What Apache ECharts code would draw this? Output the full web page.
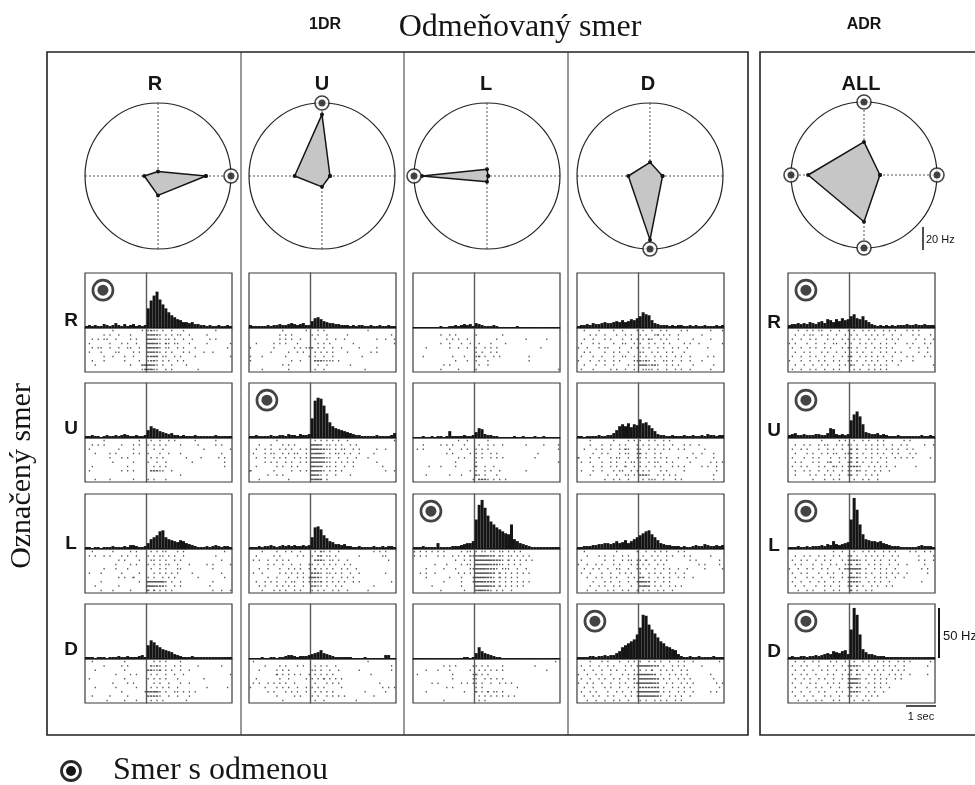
<!DOCTYPE html>
<html>
<head>
<meta charset="utf-8">
<script src="https://cdn.jsdelivr.net/npm/echarts@6/dist/echarts.min.js"></script>
<style>
  html, body { margin: 0; padding: 0; background: #fff; }
  #chart { width: 975px; height: 785px; }
</style>
</head>
<body>
<div id="chart"></div>
<script>
// Movement directions, in the order used by every tuning array: R, U, L, D
const directions = ['R', 'U', 'L', 'D'];
const directionAngles = [0, 90, 180, 270];
const columnTitles = ['R', 'U', 'L', 'D', 'ALL'];

// Mean discharge per target direction (Hz), order R, U, L, D
const tuningR = [42, 4, 12, 17];
const tuningU = [7, 54, 24, 9.5];
const tuningL = [1, 6, 57, 5];
const tuningD = [11, 12, 19, 56];
const tuningALL = [14, 29, 49, 41];

// Rewarded directions for each block (degrees)
const rewardR = [0];
const rewardU = [90];
const rewardL = [180];
const rewardD = [270];
const rewardALL = [0, 90, 180, 270];

// Time axis of the peri-event plots (s); 0 = cue onset
const timeMin = -2.1;
const timeMax = 2.9;
const binWidth = 0.1;

// Peri-event histograms (Hz), per block column; rows R, U, L, D.
// Each entry: [bins before the event, bins after the event]
const psthColR = [
  [[2,3,2,3,2,2,4,3,2,3,5,3,2,4,2,3,4,2,3,2,3],[20,28,33,37,29,24,20,16,13,11,9,8,6,6,5,6,4,4,3,3,2,3,2,2,3,2,2,3,2]],
  [[2,2,3,2,2,1,2,3,2,2,3,2,3,4,3,2,2,3,2,2,3],[8,12,10,9,7,6,5,4,5,3,3,2,3,2,2,2,3,2,2,2,2,2,2,3,2,2,2,2,2]],
  [[2,2,1,2,2,1,2,2,2,3,2,2,2,3,2,4,4,3,2,2,3],[6,10,12,14,18,19,12,10,9,8,7,9,8,6,5,4,3,2,2,2,3,2,3,4,3,2,3,3,2]],
  [[2,2,2,1,2,2,2,1,2,2,2,3,2,2,3,2,2,2,3,4,2],[14,19,17,14,12,10,9,8,7,5,4,3,2,2,2,3,2,2,2,2,2,2,2,2,2,2,2,2,2]]
];
const psthColU = [
  [[3,2,2,2,2,2,3,2,3,3,4,3,3,4,5,4,3,4,5,3,3],[7,10,11,9,7,6,5,5,4,4,3,3,3,2,3,2,3,3,2,2,3,2,2,3,2,2,3,2,2]],
  [[2,2,3,2,2,2,2,3,2,2,3,3,2,4,3,3,2,4,3,3,4],[20,38,41,40,33,25,16,12,10,9,8,7,6,5,4,3,3,2,2,2,2,2,3,2,2,2,2,3,5]],
  [[2,2,2,3,2,3,3,4,3,2,3,4,3,4,3,4,3,3,4,3,4],[12,22,23,20,14,11,8,7,5,5,4,5,3,3,2,2,3,2,2,2,2,3,2,2,3,2,3,3,2]],
  [[1,1,1,1,2,1,1,2,2,1,2,2,3,4,4,3,2,3,3,3,4],[5,6,7,9,6,5,4,3,2,2,2,2,2,2,1,1,1,1,2,1,1,1,1,1,1,4,4,1,1]]
];
const psthColL = [
  [[1,1,1,1,1,1,1,1,1,2,1,1,2,2,3,2,3,4,3,4,2],[5,4,3,2,2,2,3,2,1,1,1,1,1,1,2,1,1,1,1,1,1,1,1,1,1,1,1,1,1]],
  [[1,1,1,2,1,1,2,1,2,2,1,2,7,2,2,2,2,3,2,2,3],[6,10,9,4,3,3,2,2,1,1,1,1,1,2,1,1,2,1,1,1,2,1,1,2,1,1,1,1,1]],
  [[2,2,2,3,2,2,2,2,6,2,2,2,2,3,3,3,4,5,6,6,8],[30,45,50,42,34,28,25,22,20,18,16,15,25,10,8,6,5,4,3,2,2,2,2,2,2,2,2,2,2]],
  [[1,1,1,1,1,1,1,1,1,1,1,1,1,1,1,1,1,2,2,1,2],[6,12,8,6,5,4,3,2,2,1,1,1,1,1,1,1,1,1,1,1,1,1,1,1,1,1,1,1,1]]
];
const psthColD = [
  [[2,3,3,4,3,5,4,4,5,6,5,5,6,7,6,8,6,7,9,8,10],[12,16,14,13,8,5,4,3,3,3,2,3,2,3,3,2,2,3,2,3,2,2,3,2,2,2,3,2,3]],
  [[2,2,1,2,2,2,2,3,2,2,3,3,5,8,12,14,12,15,11,14,13],[19,15,16,13,10,7,4,3,3,2,2,3,2,2,2,3,2,2,3,2,2,3,2,4,3,3,2,3,3]],
  [[2,2,3,3,3,4,4,5,5,6,6,5,6,8,6,7,9,6,8,10,12],[14,16,18,19,15,12,9,6,5,4,4,3,3,3,2,3,2,2,3,4,3,3,5,4,3,3,4,3,4]],
  [[2,2,2,2,3,3,2,3,3,4,3,4,4,6,8,12,14,16,18,20,25],[32,45,44,35,30,26,22,18,16,13,12,10,9,5,3,2,2,3,2,2,3,2,2,2,2,3,2,2,2]]
];
const psthColAll = [
  [[3,4,4,5,4,5,4,6,5,4,6,7,5,9,8,6,9,7,10,8,9],[12,14,10,9,12,8,6,4,3,2,3,2,3,2,3,2,3,3,3,4,3,3,4,3,3,4,3,3,3]],
  [[3,4,5,3,3,4,3,3,3,4,4,3,3,5,10,9,4,3,4,3,4],[18,24,27,22,14,6,5,4,4,5,3,4,3,2,2,2,3,2,2,2,2,2,2,2,3,2,2,3,2]],
  [[2,2,2,3,2,2,3,2,3,3,3,4,3,5,4,8,5,4,5,6,7],[30,52,40,25,15,10,9,8,8,7,8,6,5,4,3,3,3,2,2,2,2,2,2,3,4,3,3,3,2]],
  [[2,3,2,2,3,3,2,3,3,4,3,4,5,6,5,8,7,6,8,9,5],[30,52,45,25,10,7,5,5,4,3,3,3,2,2,2,2,2,2,2,2,2,2,2,2,2,2,2,2,2]]
];

// Spike rasters: one string per trial, one character per 0.1 s bin
// ('.' = no spike, digit = spike count); '|' marks the event.
const rasterColR = [
  [
    ".........1.........1.|1211.1..1...1..........1.....",
    "......1.1..1...1.....|23221.1.1.11..1.....1........",
    "..1.1.11..1....1.1...|32311.11.1..1..1.....1.1.....",
    ".1......1...1.1..1...|33321.21.11...1.....1.......1",
    "..1.11..1..1..11..1..|33231.11..1.1...1..........1.",
    ".1...1....11....1.1..|23221.1.1...1.1....1..1......",
    "......1..1...1..1....|2232.11..1.1....1...........1",
    "..1...1......1....1..|1221.1.1..1.1................",
    "...1...........1...23|3321.1..1....1...............",
    "...................12|2311..1.1........1..........."
  ],
  [
    "......1...........1..|.1..1..1.1......1......1.....",
    "..1.1.1.....1...1.1..|1.1.1.1....1.....1.....1.1...",
    ".1.........1....1....|..1..1.............1........1",
    "...1....1.1.....1.1..|1...1..1...1.............1...",
    "........1...1.1......|.1.1.1.......1....1.....1.1..",
    ".........1......1....|1..1..1........1..........1..",
    "..1...........1......|..1.1.1...................1..",
    ".1..........1.1.1....|.22211..1....................",
    ".....................|...........1.................",
    "...1....1.......1....|1.1...1......................"
  ],
  [
    "..1......1.....1.1...|.1.1.11...1.1.............1..",
    ".1.1..1.1...1.1..1...|1.1.11.1.1..1..........1.....",
    "...........1.1....1..|.11.1.1..1.1.............1...",
    "..........1....1.1...|1.1.1.11..1...1.....1.1.....1",
    "......1...1...1......|.1..1.1...11..........1......",
    ".1...1......1.....1..|..1.1.1.1.1....1.........1...",
    "...........1.1..2....|1.1..1.1.1.......1........1..",
    ".....1............1..|3333331.1..1..........1......",
    "...1.......1.........|3332221..1.1.........1.......",
    ".....1...1.....1.....|2.2.1.1.1.............1..1..1"
  ],
  [
    "..1..........1.......|..1.1.1....1.................",
    "......1.....1.1......|.2121.1..1.1.....1.......1...",
    "...1.........1.......|22112.1.1..1..1..............",
    "..........1....1.1...|.1.1..1..1..1...............1",
    ".1...........1.......|1.1.1.1...1........1.........",
    ".........1....1.1....|..1.1..1...1..1..............",
    "...1......1......1...|.1.1.1.1..1.........1......1.",
    "............1.......1|32331.1..11.1.1.1............",
    "..1.....1.....1......|22221..1..1...1..............",
    ".......1.....1...1...|.1.1.1.......1..............."
  ]
];
const rasterColU = [
  [
    "...........1.......1.|..1.1..............1.........",
    "..........1.1.1......|1.1..1......1..............1.",
    "..........1.1.1..1...|.1...1..1..1..........1..1..1",
    "..1.....1.1.1...1....|..1.1.1.......1.............1",
    "1.......1......1.1.11|2.1.1..1..1.....1.....1......",
    ".......1.....1..1.1..|.1.1.1.1....1.......1.1......",
    "1...1.......1.......1|.1..1..1.........1...........",
    "1.............1..1...|.2221111.1...................",
    "...........1.1.......|..1..1.......1...............",
    "....1........1.......|.1..1.............1.........."
  ],
  [
    ".........1...........|.1.1.1.1.1..1...............1",
    "...1...1...1.1.1.....|3332.11.1.1..1.1.............",
    "..1..1.1..1.1.1..1.1.|3332211.1.11..1.1.....1..1...",
    ".1...1.11..1.1.11..1.|23331.1.11.1.1..1....1.......",
    "..1..1..1.1.1..1.1.1.|3333211..1..1..1...1.........",
    ".....1.1.1..1.1..1.1.|3333211.1.1.1.1.......1......",
    "..1......1.1..1.1....|3323.11.1..1..1.........1....",
    "2.......1.....1..1.1.|33321.1.1.1..............1..1",
    "......1..1.1.........|3321.1..1....1...............",
    "...1.........1.......|2332.1......................."
  ],
  [
    "....1....1..1.1..1...|.1.21.1..1...........1.1.1...",
    "..1.....1.1.....1.1..|1.22.11.1.......1.......11...",
    ".1.1..1..1.1.1.......|.2221.11.1..1.............1..",
    "......1.1..1..1..1..1|1.1.1.1.1..1.1...............",
    "...1..1...1..1.1.1..1|.2.1.1.1..1.1..1.............",
    ".1..1.....1.1.1.1.1..|2221.11.1.1..1..1........1...",
    "......1..1...1..1.1.1|3221.1.1..1.1.1..............",
    "..1..1.1.1..1.11..1.1|1212.1.1.1.1..1.1..........1.",
    "...1.1...1.1.1.1..1..|2211.1..1.1..........1.......",
    "....1...1.1.1..1.1...|1.1.1..1.1..1......1........."
  ],
  [
    ".1...................|...................1.........",
    ".....1....1.1...1.1..|.1.1.1..1..................1.",
    "...1.....1.1.1.......|11.1..1..1......1..........1.",
    ".........2.1.1.1.1..1|.1.1.1.1............1........",
    "..1.......1..1.....1.|1.1.2.1.1.1..................",
    ".1.1..1.1.1.1..1.....|.1...1.1.1.............1.....",
    "1....1...1.1.1..1..1.|1.1.1.....1.............1.1.1",
    "......1.1...1.1.1..1.|.1.1.1.1..........1......1...",
    ".........1.....1.1...|1.1..1.1.1.1.........1.......",
    "...........1.........|.1..1..........1............."
  ]
];
const rasterColL = [
  [
    ".....................|.............................",
    ".........1..1.1......|1........1...................",
    "...........1.1.1..1..|.......1.........1......1....",
    ".........1..1...1..1.|.1...1....1..................",
    "....1.......1..1..1..|1..1.1.1..............1......",
    ".....................|1.1..1.1.....................",
    "...1.........1...1...|12.1..1.1.........1..........",
    "..............1...1..|1...1.............1..........",
    "..........1.1........|.1..1........................",
    ".........1.....1.....|1...........................1"
  ],
  [
    "...............1..1..|....1........................",
    "...1.....1.1.1...1...|.1..1.1..1.......1.....1....1",
    ".1.1........1...1.1..|1.1.1.......................1",
    "...........1.1.....1.|1.1..1.1.............1.......",
    "...............1.1...|1.1..1.1.1..........1........",
    "..............1......|1...........................1",
    ".....1...1....1......|2..1..1......................",
    "...................1.|1..1.1..1........1...........",
    "....1.......1...1....|21.1...1.....................",
    "....................1|.2221.1.1.1.................."
  ],
  [
    "1.1.1.1.1.1.....1.11.|1.11.11.11.1.1.1.............",
    "1.1.1...1.1..1.1.1.21|2333222.21.11.1.1.1..........",
    "..............1..1.1.|3333332221.2.1.1.1.1.........",
    ".......1...1....1.11.|3333322211.1.1.1.............",
    "....1.....1...1....11|33332221.111..1..1...........",
    "..1.1..1.......1.1.1.|3333322.2.1.1.1.1.1..........",
    "....1.......1...1...1|3333221.2.1.1.1..............",
    "..........1.....1...1|3332222.1.1.1.1.1.1..........",
    "......1.........1....|3333322.2.1.1.1.1............",
    ".........1.......1...|233221.1.1..1................"
  ],
  [
    ".....................|...........................1.",
    "..........1.1.1.....1|1.1.1....1..........1........",
    "....1...1...1......1.|.1.1.1.1.1..............1....",
    ".1...........1......1|2.1.1........................",
    ".............1......1|1..1.1.1.1...................",
    "......1.1.......1.1.1|1.1..1..1.1.1................",
    "...........1.1.......|1.1...........1..............",
    "....1............1...|2.1.2.11.1...................",
    ".....................|.1.1.1.1.1.1.1...............",
    "..........1..........|.1.1........................."
  ]
];
const rasterColD = [
  [
    "..1....1....1..1....1|.1..1..1.1....1.1.......1...1",
    "....1.1..1...1..1.1..|1.1..12.1.1..1.......1.......",
    "..1..1...1.1...1..1.1|.1.21..1.1...1....1.....1....",
    ".1...1.1....1..11..1.|1..1.1..1.1....1.1..1.......1",
    "1..1...1.11...1...1.1|.1.1..1.1..1.1..1......1.....",
    "..1.1....1..1.1..1...|11..1.1..1.1...1.............1",
    ".1...1..1...1..11..1.|1.1..1.1.1..1.1..1.....1.1...",
    "1...1..1.1..1.1....11|2121.1..11.1..1..1...1.......",
    "..1...1..1..1....1.1.|2321221..1.1.1....1......1...",
    ".1...1.....1.1..1..1.|.1111.1..1..1.1..1......1...."
  ],
  [
    "....1.......1....1.1.|1..1.1..1.1..................",
    "....1...1..1..1.1...1|.1.1..1.1..1...1.1..1........",
    "..1...1.1..1..1.21..1|1..1.1..1.1..1.1......1......1",
    ".....1..1.1...1.11..1|2.1..1.1..........1..1...1...",
    "2...1..1...1.11..1..1|1.1..1.1.1...1..1..1.....1...",
    ".1..1...1..1.1..1.11.|1..1.11..1.1.....1......1.1.1",
    ".....1..1..1.1..2..1.|1.1..1.1...1.1.1.....1.1..1..",
    ".1...1..1...1.11..1.1|.1.1...1.1.....1..........1..",
    "....1.....1..1..11.1.|2221..1.1.1.1............1...",
    ".........1..1.1..1...|.1.111..1...1.1..........1..."
  ],
  [
    "..1..........1......1|..1..1.1.1...1.1.............",
    "...1...1.1..1..1.1...|.1..1.1..1.1...1.1......1....",
    ".1.......1..1..1.11.1|1.2..1.1.1.......1.1.......1.",
    "1..1..1.1...1.1...1.1|.1.1..1.1...........1.1....1.",
    "..1..1.1..1..11..1..1|1.1..1..1.1..1..1.....1.....1",
    ".1..1...1..1..1.1.1..|1..1.1.1..1.1..1.............",
    "...1..1.1..1.1...1.1.|22.1..1.1.1..1.1..1..........",
    ".....1...1.1..1..1..1|3322.1..1.1..................",
    "....1..1.1..1.1...1..|2332.1.1..1.1.1..............",
    "...1..1...1.1..1.1..1|.1.1..1.1..1................."
  ],
  [
    "....1...1.1...1..1.1.|1..1.1.1..1..1.1..1........1.",
    ".1..1..1..1.1...1.1.1|3333222.1..1.1.1.....1.......",
    "..1..1..1..1.1..1..1.|1.1.2..1.1.1..1.1............",
    "1..1..1.1..1...1.1.11|333322.1..1.1.1.1.......1....",
    ".1..1..1.1..1.1..1.2.|3333322.1.1..1.1.1.......1...",
    "1..1.1..1..1..1.1..12|3333322..1.1..1.1.1.......1.1",
    "..1..1...1.1..1..1.1.|2222222.1..1.1.1.1.........1.",
    ".1..1.1...1..1.1..1.1|3333333.1.1..1.1..1.....1.1..",
    "..1..1.1..1.1...1.1.1|33333321..1.1.1..1...........",
    "...1..1..1..1.1..1...|1.1..1.1.1..1.1.............."
  ]
];
const rasterColAll = [
  [
    "...1..1.1.11..1..1..1|.1..1.1.1..1.1.1...1.1.1.....",
    "..1..1.11..1.1..1..1.|1.1..1.1.1.1..1..1...1.1...1.",
    ".1..1..1.1...1.1..1.1|.1.1..1.1...1.1.1.....1..1..1",
    "1.1...1..1..1..11..1.|1..1.1.1..1.1..1...1.1...1.1.",
    ".1..1..1.1..1.1...1.1|1.1..1..1.1.1.1.....1..1..1..",
    "..1..1.1...1.1..1..1.|1.1.1..1..1.1..1.1.....1..1..",
    ".1..1..1.1..1..1..1.1|2..1.1.1.1.1..1....1.1...1.1.",
    "1...1..1..1.1..1.1..1|1.1..1.1.1..1.1..1...1.......",
    "..1..1..1..1.1...1.1.|21..1.1.1.1.1...1...........1",
    ".1..1..1.1..1..1.1...|.1.1..1.1.1.1................"
  ],
  [
    "...........1.....1.1.|.1..1.1..1.1......1.1........",
    "..1..1.1..1.11..1.1.1|1.1..1.1.1.1..1..1.1.....1..1",
    ".1..1.1...1..1.1..1..|2.2..1.1.1..1.1.1..1.1.......",
    "..1...1.1..1.1.11..11|2.1.1..1.1.1..1.1...1.1......",
    ".1...1..1.1...1..1.1.|2.2..1.1..1.1..1.1.1.1.....1.",
    "..1.1...1.1..12..1..1|2.2.1..1.1..1................",
    ".1..1.1...1.1..21.1.1|2221..1.1.1.1..1......1......",
    "..1..1.1..1..1.1..1.1|1.21.1..1.1..1...............",
    "..1....1.1..1.1..1..1|2.1..1.1.1...................",
    "........1...1..1.1...|.1..1.1..1..................."
  ],
  [
    "...............1..1..|.1..1.1.1..1.1.1....1.1..1.1.",
    "..1..1.1..1.1..1.1..1|2.1..1.1.1.1..1.1......1....1",
    ".1..1.1..1..1.1...1.1|2221.1..1.1..1.1.......1.1..1",
    "..1.1...1..1..1.1..11|2.21..1.1.1..1..1..1.....1...",
    "1..1..1.1..1.1...1.22|3332.1..1.1.1..1........1.1..",
    ".1..1.1...1..1.1..1..|2.21.1.1..1.1.1.1..1......1..",
    "..1...1.1..1..11..1.1|3221.1..1.1.1..1..1..........",
    ".1..1..1..1.1..1.1..1|2221..1.1.1..1..........1....",
    "..1..1...1..1.1..1..1|2.2.1..1.1..1.1..............",
    "...1..1.1...1..1.1...|2.1..1.1....................."
  ],
  [
    "..1..1..1.1...1.1..1.|.1..1.1..1.1.1..1.1.1......1.",
    ".1..1.1...1..1.1..1.1|2221..1.1..1.1.1..1.......1..",
    "..1..1..1..1.1..1..1.|2.2.1..1.1.1..1.1.1..........",
    ".1..1.1..1...1.1..1.1|1.21..1.1.1..1.1.1..1.....1..",
    "..1..1.1..1.1..1..1.1|3331.1..1.1.1..1.1...........",
    ".1..1..1.1...1.1.1..1|3321..1.1.1.1................",
    "..1...1..1.1..1..1..1|2.21.1..1.1..1...............",
    ".1..1..1..1.1...1.1..|2221..1.1..1.................",
    "..1..1..1...1.1..1..1|1.1..1.1.1...................",
    "...1..1..1.1...1.1...|.1..1.1......................"
  ]
];

// ---- derived structures ----
const tuningColumns = [tuningR, tuningU, tuningL, tuningD, tuningALL];
const rewardColumns = [rewardR, rewardU, rewardL, rewardD, rewardALL];
const psthColumns = [psthColR, psthColU, psthColL, psthColD, psthColAll];
const rasterColumns = [rasterColR, rasterColU, rasterColL, rasterColD, rasterColAll];

function histogramPoints(entry) {
  const pre = entry[0], post = entry[1], pts = [];
  pre.forEach((v, j) => pts.push([-(pre.length - j - 0.5) * binWidth, v]));
  post.forEach((v, k) => pts.push([(k + 0.5) * binWidth, v]));
  return pts;
}
function rasterPoints(rows) {
  const pts = [];
  rows.forEach((row, trial) => {
    const parts = row.split('|');
    const pre = parts[0], post = parts[1] || '';
    for (let j = 0; j < pre.length; j++) {
      const n = parseInt(pre[j], 10);
      if (n > 0) pts.push([-(pre.length - j - 0.5) * binWidth, trial, n]);
    }
    for (let k = 0; k < post.length; k++) {
      const n = parseInt(post[k], 10);
      if (n > 0) pts.push([(k + 0.5) * binWidth, trial, n]);
    }
  });
  return pts;
}

// ---- layout (pixels) ----
const polarCenters = [[158, 176], [322, 176], [487, 176], [650, 176], [864, 175]];
const polarRadius = 73;
const polarMax = 64;          // Hz at the circle
const cellLeft = [85, 249, 413, 577, 788];
const cellWidth = 147;
const cellTop = [273, 383, 494, 604];
const histHeight = 55;
const rasterHeight = 44;
const histMax = 56;           // Hz at the top of a histogram panel
const trialsPerRaster = 10;

const INK = '#151515';
const SANS = '"Liberation Sans", Arial, sans-serif';
const SERIF = '"Liberation Serif", "Times New Roman", serif';

const option = {
  animation: false,
  backgroundColor: '#ffffff',
  polar: [], angleAxis: [], radiusAxis: [],
  grid: [], xAxis: [], yAxis: [], series: [],
  graphic: []
};

// ---- direction-tuning polar plots ----
tuningColumns.forEach((tuning, i) => {
  option.polar.push({ center: polarCenters[i], radius: polarRadius });
  option.angleAxis.push({
    polarIndex: i, type: 'value', min: 0, max: 360, interval: 90,
    startAngle: 0, clockwise: false,
    axisLine: { show: true, lineStyle: { color: '#222', width: 1.2 } },
    axisTick: { show: false }, axisLabel: { show: false },
    splitLine: { show: true, lineStyle: { color: '#555', width: 1, type: [2, 2] } }
  });
  option.radiusAxis.push({
    polarIndex: i, type: 'value', min: 0, max: polarMax,
    axisLine: { show: false }, axisTick: { show: false },
    axisLabel: { show: false }, splitLine: { show: false }
  });
  const poly = tuning.map((v, k) => [v, directionAngles[k]]);
  poly.push([tuning[0], 360]);
  option.series.push({
    type: 'line', coordinateSystem: 'polar', polarIndex: i,
    data: poly, symbol: 'circle', symbolSize: 4, showSymbol: true,
    itemStyle: { color: INK },
    lineStyle: { color: INK, width: 1.5 },
    areaStyle: { color: '#c6c6c6', opacity: 1 },
    z: 3
  });
  const marks = rewardColumns[i].map(a => [polarMax, a]);
  option.series.push({
    type: 'scatter', coordinateSystem: 'polar', polarIndex: i, data: marks,
    symbol: 'circle', symbolSize: 14,
    itemStyle: { color: '#fff', borderColor: INK, borderWidth: 1.6 }, z: 4
  });
  option.series.push({
    type: 'scatter', coordinateSystem: 'polar', polarIndex: i, data: marks,
    symbol: 'circle', symbolSize: 7, itemStyle: { color: INK }, z: 5
  });
});

// ---- peri-event histograms and rasters ----
for (let c = 0; c < 5; c++) {
  for (let r = 0; r < 4; r++) {
    const hg = option.grid.length;
    option.grid.push({
      left: cellLeft[c], top: cellTop[r], width: cellWidth, height: histHeight,
      show: true, borderColor: '#3a3a3a', borderWidth: 1.2, backgroundColor: 'transparent'
    });
    option.grid.push({
      left: cellLeft[c], top: cellTop[r] + histHeight, width: cellWidth, height: rasterHeight,
      show: true, borderColor: '#3a3a3a', borderWidth: 1.2, backgroundColor: 'transparent'
    });
    [hg, hg + 1].forEach(g => {
      option.xAxis.push({
        gridIndex: g, type: 'value', min: timeMin, max: timeMax,
        axisLine: { show: false }, axisTick: { show: false },
        axisLabel: { show: false }, splitLine: { show: false }
      });
    });
    option.yAxis.push({
      gridIndex: hg, type: 'value', min: 0, max: histMax,
      axisLine: { show: true, onZero: true, lineStyle: { color: '#5a5a5a', width: 1.4 } },
      axisTick: { show: false }, axisLabel: { show: false }, splitLine: { show: false }
    });
    option.yAxis.push({
      gridIndex: hg + 1, type: 'value', min: -0.6, max: trialsPerRaster - 0.4, inverse: true,
      axisLine: { show: true, onZero: true, lineStyle: { color: '#5a5a5a', width: 1.4 } },
      axisTick: { show: false }, axisLabel: { show: false }, splitLine: { show: false }
    });
    option.series.push({
      type: 'bar', xAxisIndex: hg, yAxisIndex: hg,
      data: histogramPoints(psthColumns[c][r]),
      barWidth: 3, itemStyle: { color: INK }, z: 2
    });
    option.series.push({
      type: 'scatter', xAxisIndex: hg + 1, yAxisIndex: hg + 1,
      data: rasterPoints(rasterColumns[c][r]),
      symbol: 'rect',
      symbolSize: v => [0.3 + v[2] * 1.0, 1.5],
      itemStyle: { color: '#2a2a2a' }, z: 2
    });
    const rewarded = rewardColumns[c].indexOf(directionAngles[r]) >= 0;
    if (rewarded) {
      option.series.push({
        type: 'scatter', xAxisIndex: hg, yAxisIndex: hg, data: [[-1.49, 38.5]],
        symbol: 'circle', symbolSize: 20,
        itemStyle: { color: '#fff', borderColor: INK, borderWidth: 2.7 }, z: 4
      });
      option.series.push({
        type: 'scatter', xAxisIndex: hg, yAxisIndex: hg, data: [[-1.49, 38.5]],
        symbol: 'circle', symbolSize: 11, itemStyle: { color: INK }, z: 5
      });
    }
  }
}

// ---- frames, titles and scale bars ----
const g = option.graphic;
g.push({ type: 'rect', shape: { x: 47, y: 52, width: 701, height: 683 },
  style: { fill: 'none', stroke: '#222', lineWidth: 1.6 }, silent: true });
[241, 404, 568].forEach(x => g.push({ type: 'line', shape: { x1: x, y1: 52, x2: x, y2: 735 },
  style: { stroke: '#333', lineWidth: 1 }, silent: true }));
g.push({ type: 'rect', shape: { x: 760, y: 52, width: 240, height: 683 },
  style: { fill: 'none', stroke: '#222', lineWidth: 1.6 }, silent: true });

function txt(text, x, y, font, align, extra) {
  return Object.assign({ type: 'text', x: x, y: y, silent: true,
    style: { text: text, font: font, fill: INK, textAlign: align || 'center', textVerticalAlign: 'middle' } }, extra || {});
}
g.push(txt('1DR', 325, 25, 'bold 16px ' + SANS));
g.push(txt('Odmeňovaný smer', 520, 28, '32px ' + SERIF));
g.push(txt('ADR', 864, 25, 'bold 16px ' + SANS));
const titleX = [155, 322, 486, 648, 861];
columnTitles.forEach((t, i) => g.push(txt(t, titleX[i], 84, 'bold 20px ' + SANS)));
const rowLabelY = [321, 429, 544, 650];
directions.forEach((d, r) => {
  g.push(txt(d, 71, rowLabelY[r], 'bold 19px ' + SANS));
  g.push(txt(d, 774, rowLabelY[r] + 2, 'bold 19px ' + SANS));
});
g.push(txt('Označený smer', 22, 476, '30px ' + SERIF, 'center', { rotation: Math.PI / 2 }));

// 20 Hz bar for the polar plots
g.push({ type: 'line', shape: { x1: 923, y1: 227, x2: 923, y2: 250 }, style: { stroke: INK, lineWidth: 1.5 }, silent: true });
g.push(txt('20 Hz', 926, 240, '11px ' + SANS, 'left'));
// 50 Hz bar for the histograms
g.push({ type: 'line', shape: { x1: 939, y1: 608, x2: 939, y2: 658 }, style: { stroke: INK, lineWidth: 2 }, silent: true });
g.push(txt('50 Hz', 943, 636, '13px ' + SANS, 'left'));
// 1 s time bar
g.push({ type: 'line', shape: { x1: 906, y1: 706, x2: 936, y2: 706 }, style: { stroke: INK, lineWidth: 1.5 }, silent: true });
g.push(txt('1 sec', 921, 717, '11px ' + SANS));

// legend
g.push({ type: 'circle', shape: { cx: 71, cy: 771, r: 9.5 }, style: { fill: '#fff', stroke: '#2a2a2a', lineWidth: 2.8 }, silent: true });
g.push({ type: 'circle', shape: { cx: 71, cy: 771, r: 5 }, style: { fill: INK }, silent: true });
g.push(txt('Smer s odmenou', 113, 771, '32px ' + SERIF, 'left'));

const chart = echarts.init(document.getElementById('chart'), null, { renderer: 'canvas' });
chart.setOption(option);
</script>
</body>
</html>
